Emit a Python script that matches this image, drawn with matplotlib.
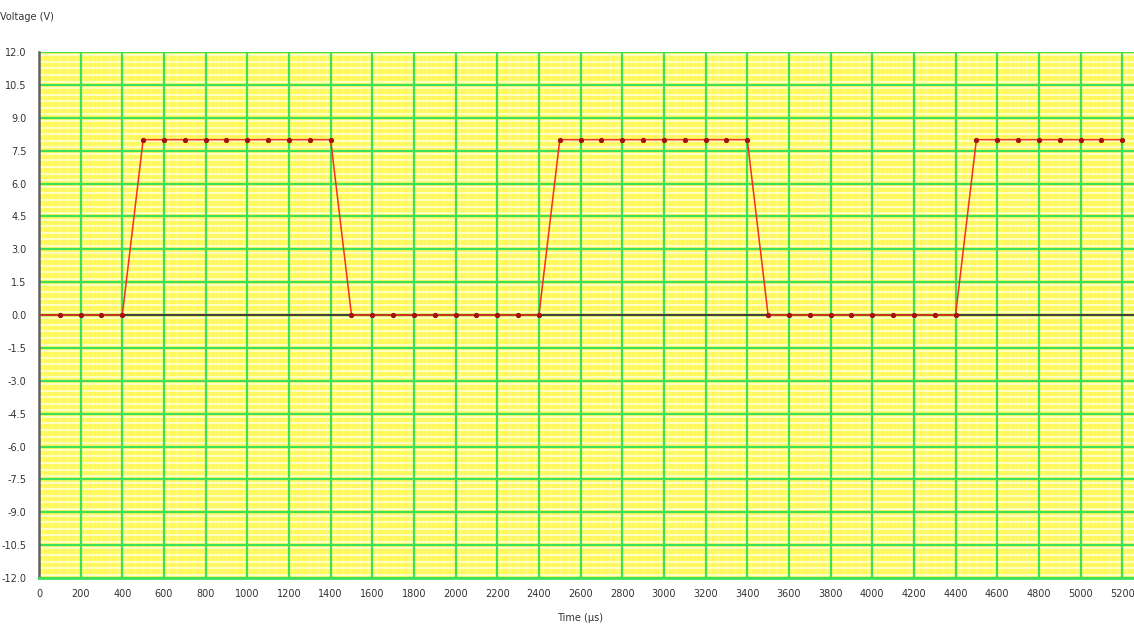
import matplotlib
matplotlib.use("Agg")
import matplotlib.pyplot as plt
import numpy as np
from matplotlib.ticker import FixedLocator, FixedFormatter

# Data: time (µs) and voltage (V)
time_us = [0, 100, 200, 300, 400, 500, 600, 700, 800, 900, 1000, 1100, 1200, 1300, 1400,
           1500, 1600, 1700, 1800, 1900, 2000, 2100, 2200, 2300, 2400,
           2500, 2600, 2700, 2800, 2900, 3000, 3100, 3200, 3300, 3400,
           3500, 3600, 3700, 3800, 3900, 4000, 4100, 4200, 4300, 4400,
           4500, 4600, 4700, 4800, 4900, 5000, 5100, 5200]
voltage = [0, 0, 0, 0, 0, 8, 8, 8, 8, 8, 8, 8, 8, 8, 8,
           0, 0, 0, 0, 0, 0, 0, 0, 0, 0,
           8, 8, 8, 8, 8, 8, 8, 8, 8, 8,
           0, 0, 0, 0, 0, 0, 0, 0, 0, 0,
           8, 8, 8, 8, 8, 8, 8, 8]

x_ticks = list(range(0, 5201, 200))
y_ticks = [12.0, 10.5, 9.0, 7.5, 6.0, 4.5, 3.0, 1.5, 0.0, -1.5, -3.0, -4.5,
           -6.0, -7.5, -9.0, -10.5, -12.0]
y_tick_labels = ["12.0", "10.5", "9.0", "7.5", "6.0", "4.5", "3.0", "1.5", "0.0",
                 "-1.5", "-3.0", "-4.5", "-6.0", "-7.5", "-9.0", "-10.5", "-12.0"]

fig = plt.figure(figsize=(11.34, 6.29), dpi=100)
ax = fig.add_axes([39 / 1134, 1 - 578 / 629, 1 - 39 / 1134 + 0.001, (578 - 52) / 629])
ax.set_facecolor("#FFF85C")

ax.set_xlim(0, 5262)
ax.set_ylim(-12, 12)

# fine pale background texture (drawn below the grid)
for yy in np.arange(-11.85, 12, 0.3):
    ax.axhline(yy, color="#FFFFC4", linewidth=1.5, zorder=0.1)
for xx in np.arange(20, 5262, 40):
    ax.axvline(xx, color="#FFFFB8", linewidth=0.7, alpha=0.5, zorder=0.1)

# major green grid
ax.xaxis.set_major_locator(FixedLocator(x_ticks))
ax.yaxis.set_major_locator(FixedLocator(y_ticks))
ax.yaxis.set_major_formatter(FixedFormatter(y_tick_labels))
ax.xaxis.set_major_formatter(FixedFormatter([str(v) for v in x_ticks]))
ax.grid(which="major", color="#3EE05A", linewidth=1.6)
ax.set_axisbelow(True)

# zero line
ax.axhline(0, color="#404040", linewidth=1.5, zorder=2)

ax.plot(time_us, voltage, color="#F03020", linewidth=1.1, zorder=3,
        marker="o", markersize=2.8, markerfacecolor="#A81010", markeredgecolor="#A81010",
        markevery=list(range(1, len(time_us))))

for s in ["top", "right"]:
    ax.spines[s].set_visible(False)
ax.spines["bottom"].set_color("#3EE05A")
ax.spines["bottom"].set_linewidth(2)
ax.spines["left"].set_color("#606060")
ax.spines["left"].set_linewidth(1.8)

ax.tick_params(which="both", length=0)
ax.tick_params(axis="y", labelsize=7, labelcolor="#333333", pad=9)
ax.tick_params(axis="x", labelsize=7, labelcolor="#333333", pad=8)

fig.text(0.0, 1 - 17 / 629, "Voltage (V)", fontsize=7, color="#333333", va="center", ha="left")
fig.text(580 / 1134, 1 - 618 / 629, "Time (µs)", fontsize=7, color="#333333", va="center", ha="center")

fig.savefig("out.png", dpi=100, facecolor="white")
